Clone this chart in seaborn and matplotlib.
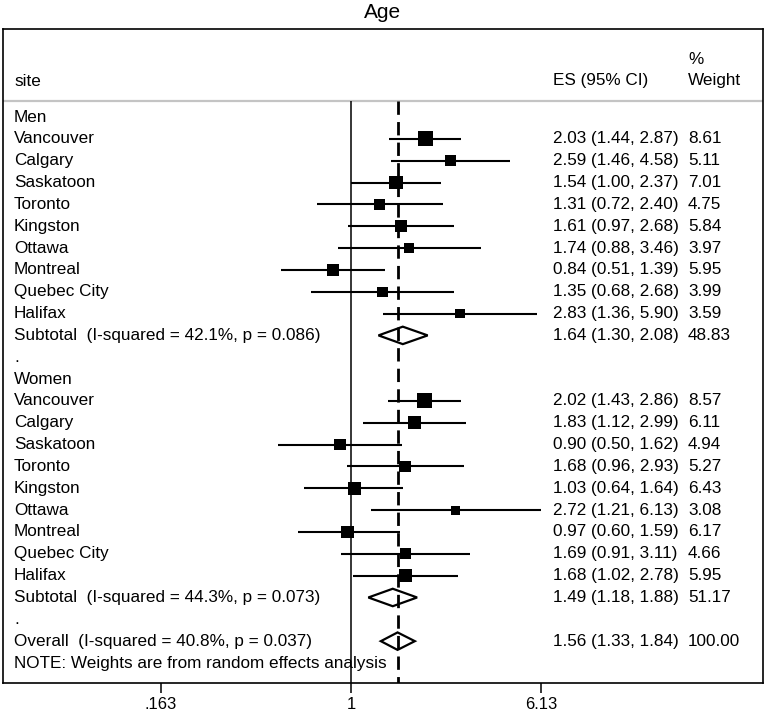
import numpy as np
import pandas as pd
import matplotlib
matplotlib.use("Agg")
import matplotlib.pyplot as plt
from matplotlib.patches import Polygon
import seaborn as sns

# ---------------- data ----------------
sites = ["Vancouver", "Calgary", "Saskatoon", "Toronto", "Kingston",
         "Ottawa", "Montreal", "Quebec City", "Halifax"]

men_es = [2.03, 2.59, 1.54, 1.31, 1.61, 1.74, 0.84, 1.35, 2.83]
men_lo = [1.44, 1.46, 1.00, 0.72, 0.97, 0.88, 0.51, 0.68, 1.36]
men_hi = [2.87, 4.58, 2.37, 2.40, 2.68, 3.46, 1.39, 2.68, 5.90]
men_w = [8.61, 5.11, 7.01, 4.75, 5.84, 3.97, 5.95, 3.99, 3.59]

women_es = [2.02, 1.83, 0.90, 1.68, 1.03, 2.72, 0.97, 1.69, 1.68]
women_lo = [1.43, 1.12, 0.50, 0.96, 0.64, 1.21, 0.60, 0.91, 1.02]
women_hi = [2.86, 2.99, 1.62, 2.93, 1.64, 6.13, 1.59, 3.11, 2.78]
women_w = [8.57, 6.11, 4.94, 5.27, 6.43, 3.08, 6.17, 4.66, 5.95]

sub_labels = ["Subtotal  (I-squared = 42.1%, p = 0.086)",
              "Subtotal  (I-squared = 44.3%, p = 0.073)",
              "Overall  (I-squared = 40.8%, p = 0.037)"]
sub_es = [1.64, 1.49, 1.56]
sub_lo = [1.30, 1.18, 1.33]
sub_hi = [2.08, 1.88, 1.84]
sub_w = [48.83, 51.17, 100.00]

group_labels = ["Men", "Women"]
overall_es = 1.56
tick_values = [0.163, 1, 6.13]
tick_labels = [".163", "1", "6.13"]
title = "Age"
note = "NOTE: Weights are from random effects analysis"

# ---------------- layout of rows ----------------
rows = []   # (row, label, es, lo, hi, w, kind)
r = 0
for g, (es_l, lo_l, hi_l, w_l) in enumerate([(men_es, men_lo, men_hi, men_w),
                                           (women_es, women_lo, women_hi, women_w)]):
    rows.append((r, group_labels[g], None, None, None, None, "label")); r += 1
    for s, e, lo, hi, w in zip(sites, es_l, lo_l, hi_l, w_l):
        rows.append((r, s, e, lo, hi, w, "study")); r += 1
    rows.append((r, sub_labels[g], sub_es[g], sub_lo[g], sub_hi[g], sub_w[g], "diamond")); r += 1
    rows.append((r, ".", None, None, None, None, "label")); r += 1
rows.append((r, sub_labels[2], sub_es[2], sub_lo[2], sub_hi[2], sub_w[2], "diamond")); r += 1
rows.append((r, note, None, None, None, None, "label"))

df = pd.DataFrame(rows, columns=["row", "label", "es", "lo", "hi", "w", "kind"])
studies = df[df.kind == "study"].copy()

# ---------------- figure ----------------
sns.set_style("white")
plt.rcParams["font.family"] = ["Liberation Sans", "DejaVu Sans"]
plt.rcParams["text.color"] = "black"
plt.rcParams["xtick.color"] = "black"
plt.rcParams["xtick.labelcolor"] = "black"

W, H = 767, 714
fig = plt.figure(figsize=(W / 100, H / 100), dpi=100)
box_l, box_r, box_t, box_b = 3, 763, 29, 683
ax = fig.add_axes([box_l / W, 1 - box_b / H, (box_r - box_l) / W, (box_b - box_t) / H])

# x mapping: px = 351 + 104.7 * ln(v)
k = 104.7
x0 = 351
ax.set_xscale("log")
ax.set_xlim(np.exp((box_l - x0) / k), np.exp((box_r - x0) / k))
# y mapping: px = 117 + 21.84 * row
y0, dy = 117, 21.84
ax.set_ylim((box_b - y0) / dy, (box_t - y0) / dy)

sep_row = (101 - y0) / dy
head_row = (81 - y0) / dy
ylo = (box_b - y0) / dy

# separator line
ax.axhline(sep_row, color="#c4c4c4", lw=1.6, zorder=1)
# null line
ax.vlines(1, sep_row, ylo, color="black", lw=1.1, zorder=2)

# CI lines
ax.hlines(studies.row, studies.lo, studies.hi, color="black", lw=1.5, zorder=3)

# squares, area proportional to weight
size_map = {w: 13.5 * w for w in studies.w.unique()}
sns.scatterplot(data=studies, x="es", y="row", size="w", sizes=size_map,
                marker="s", color="black", edgecolor="black", linewidth=0,
                legend=False, ax=ax, zorder=4)

# diamonds
hh = 0.40
for _, rr in df[df.kind == "diamond"].iterrows():
    poly = Polygon([(rr.lo, rr.row), (rr.es, rr.row - hh), (rr.hi, rr.row), (rr.es, rr.row + hh)],
                   closed=True, facecolor="white", edgecolor="black", lw=1.6, zorder=4)
    ax.add_patch(poly)

# overall dashed line
ax.vlines(overall_es, sep_row, ylo, color="black", lw=2.0, linestyles=(0, (4.8, 2.6)), zorder=5)

# texts
tx_lab = (14 - box_l) / (box_r - box_l)
tx_es = (553 - box_l) / (box_r - box_l)
tx_w = (688 - box_l) / (box_r - box_l)
trans = ax.get_yaxis_transform()
fs = 12.3
tc = "black"
ax.text(tx_lab, head_row, "site", transform=trans, ha="left", va="center", fontsize=fs, color=tc)
ax.text(tx_es, head_row, "ES (95% CI)", transform=trans, ha="left", va="center", fontsize=fs, color=tc)
ax.text(tx_w, head_row, "Weight", transform=trans, ha="left", va="center", fontsize=fs, color=tc)
ax.text(tx_w, head_row - 0.98, "%", transform=trans, ha="left", va="center", fontsize=fs, color=tc)

for _, rr in df.iterrows():
    ax.text(tx_lab, rr.row, rr.label, transform=trans, ha="left", va="center", fontsize=fs, color=tc)
    if rr.kind in ("study", "diamond"):
        ax.text(tx_es, rr.row, f"{rr.es:.2f} ({rr.lo:.2f}, {rr.hi:.2f})", transform=trans,
                ha="left", va="center", fontsize=fs, color=tc)
        ax.text(tx_w, rr.row, f"{rr.w:.2f}", transform=trans, ha="left", va="center",
                fontsize=fs, color=tc)

# axes styling
ax.set_yticks([])
ax.set_ylabel("")
ax.set_xlabel("")
ax.xaxis.set_minor_locator(matplotlib.ticker.NullLocator())
ax.set_xticks(tick_values)
ax.set_xticklabels(tick_labels, fontsize=12, color=tc)
ax.tick_params(axis="x", direction="out", length=7, width=1.1, pad=3, bottom=True,
               color="black", labelcolor="black")
for sp in ax.spines.values():
    sp.set_color("black")
    sp.set_linewidth(1.2)
    sp.set_visible(True)

fig.text(383 / W, 1 - 12 / H, title, ha="center", va="center", fontsize=15, color=tc)

fig.savefig("out.png", dpi=100, facecolor="white")
